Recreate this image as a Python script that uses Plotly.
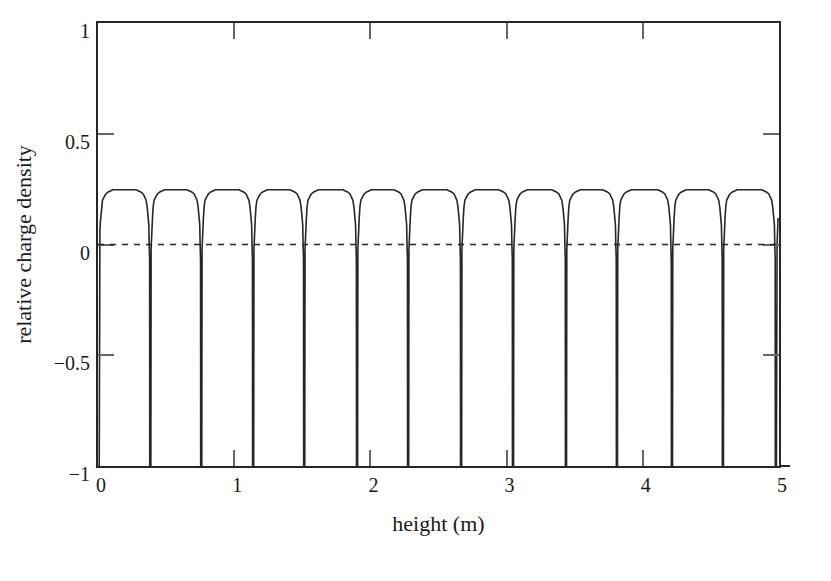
import plotly.graph_objects as go

# positions (m) where the density spikes down to -1
drop_x = [0.005, 0.384, 0.758, 1.139, 1.514, 1.902, 2.277, 2.666,
          3.047, 3.436, 3.810, 4.214, 4.588, 4.977]

# shape of the rising edge, offset from a drop (m) / value
rise_dx = [0.004, 0.006, 0.009, 0.012, 0.016, 0.021, 0.028, 0.040, 0.052, 0.070, 0.090, 0.105]
rise_y = [-1.0, -0.02, 0.06, 0.10, 0.12, 0.17, 0.20, 0.215, 0.228, 0.237, 0.243, 0.247]

# shape of the falling edge, offset before the next drop (m) / value
fall_dx = [-0.105, -0.090, -0.070, -0.052, -0.040, -0.031, -0.023, -0.016, -0.011, -0.008, -0.005, -0.004]
fall_y = [0.247, 0.243, 0.237, 0.228, 0.215, 0.20, 0.17, 0.12, 0.09, 0.0, -0.07, -1.0]

# last partial hump at the right edge
tail_dx = [0.004, 0.009, 0.016]
tail_y = [-1.0, 0.0, 0.12]

xs, ys = [], []
for s, e in zip(drop_x[:-1], drop_x[1:]):
    xs += [s + d for d in rise_dx] + [e + d for d in fall_dx]
    ys += rise_y + fall_y
xs += [drop_x[-1] + d for d in tail_dx]
ys += tail_y

LINE = '#262626'
FONT = 'Liberation Serif'

fig = go.Figure()
fig.add_trace(go.Scatter(x=xs, y=ys, mode='lines',
                         line=dict(color=LINE, width=1.6), showlegend=False,
                         hoverinfo='skip'))

# dashed zero line
fig.add_shape(type='line', xref='x domain', yref='y', x0=0, x1=1, y0=0, y1=0,
              line=dict(color=LINE, width=1.5, dash='6px,6px'))
# bottom axis runs a little past x = 5
fig.add_shape(type='line', xref='paper', yref='paper', x0=1, x1=1 + 11 / 681,
              y0=0, y1=0, line=dict(color=LINE, width=2))

fig.update_xaxes(range=[0, 5], tickvals=[0, 1, 2, 3, 4, 5],
                 ticks='inside', ticklen=16, tickwidth=1.5, tickcolor='#666',
                 showline=True, linecolor=LINE, linewidth=2, mirror='ticks',
                 showgrid=False, zeroline=False, ticklabelshift=3,
                 tickfont=dict(family=FONT, size=20, color='#1a1a1a'),
                 title=dict(text='height (m)', standoff=21,
                            font=dict(family=FONT, size=22, color='#1a1a1a')))
fig.update_yaxes(range=[-1, 1], tickvals=[-1, -0.5, 0, 0.5, 1],
                 ticks='inside', ticklen=16, tickwidth=1.5, tickcolor='#666',
                 showline=True, linecolor=LINE, linewidth=2, mirror='ticks',
                 showgrid=False, zeroline=False, ticklabelshift=8,
                 ticklabelstandoff=2,
                 tickfont=dict(family=FONT, size=20, color='#1a1a1a'),
                 title=dict(text='relative charge density', standoff=16,
                            font=dict(family=FONT, size=22, color='#1a1a1a')))

fig.update_layout(width=831, height=581, plot_bgcolor='white', paper_bgcolor='white',
                  margin=dict(l=90, r=60, t=15, b=123), showlegend=False)

fig.write_html("out.html")
